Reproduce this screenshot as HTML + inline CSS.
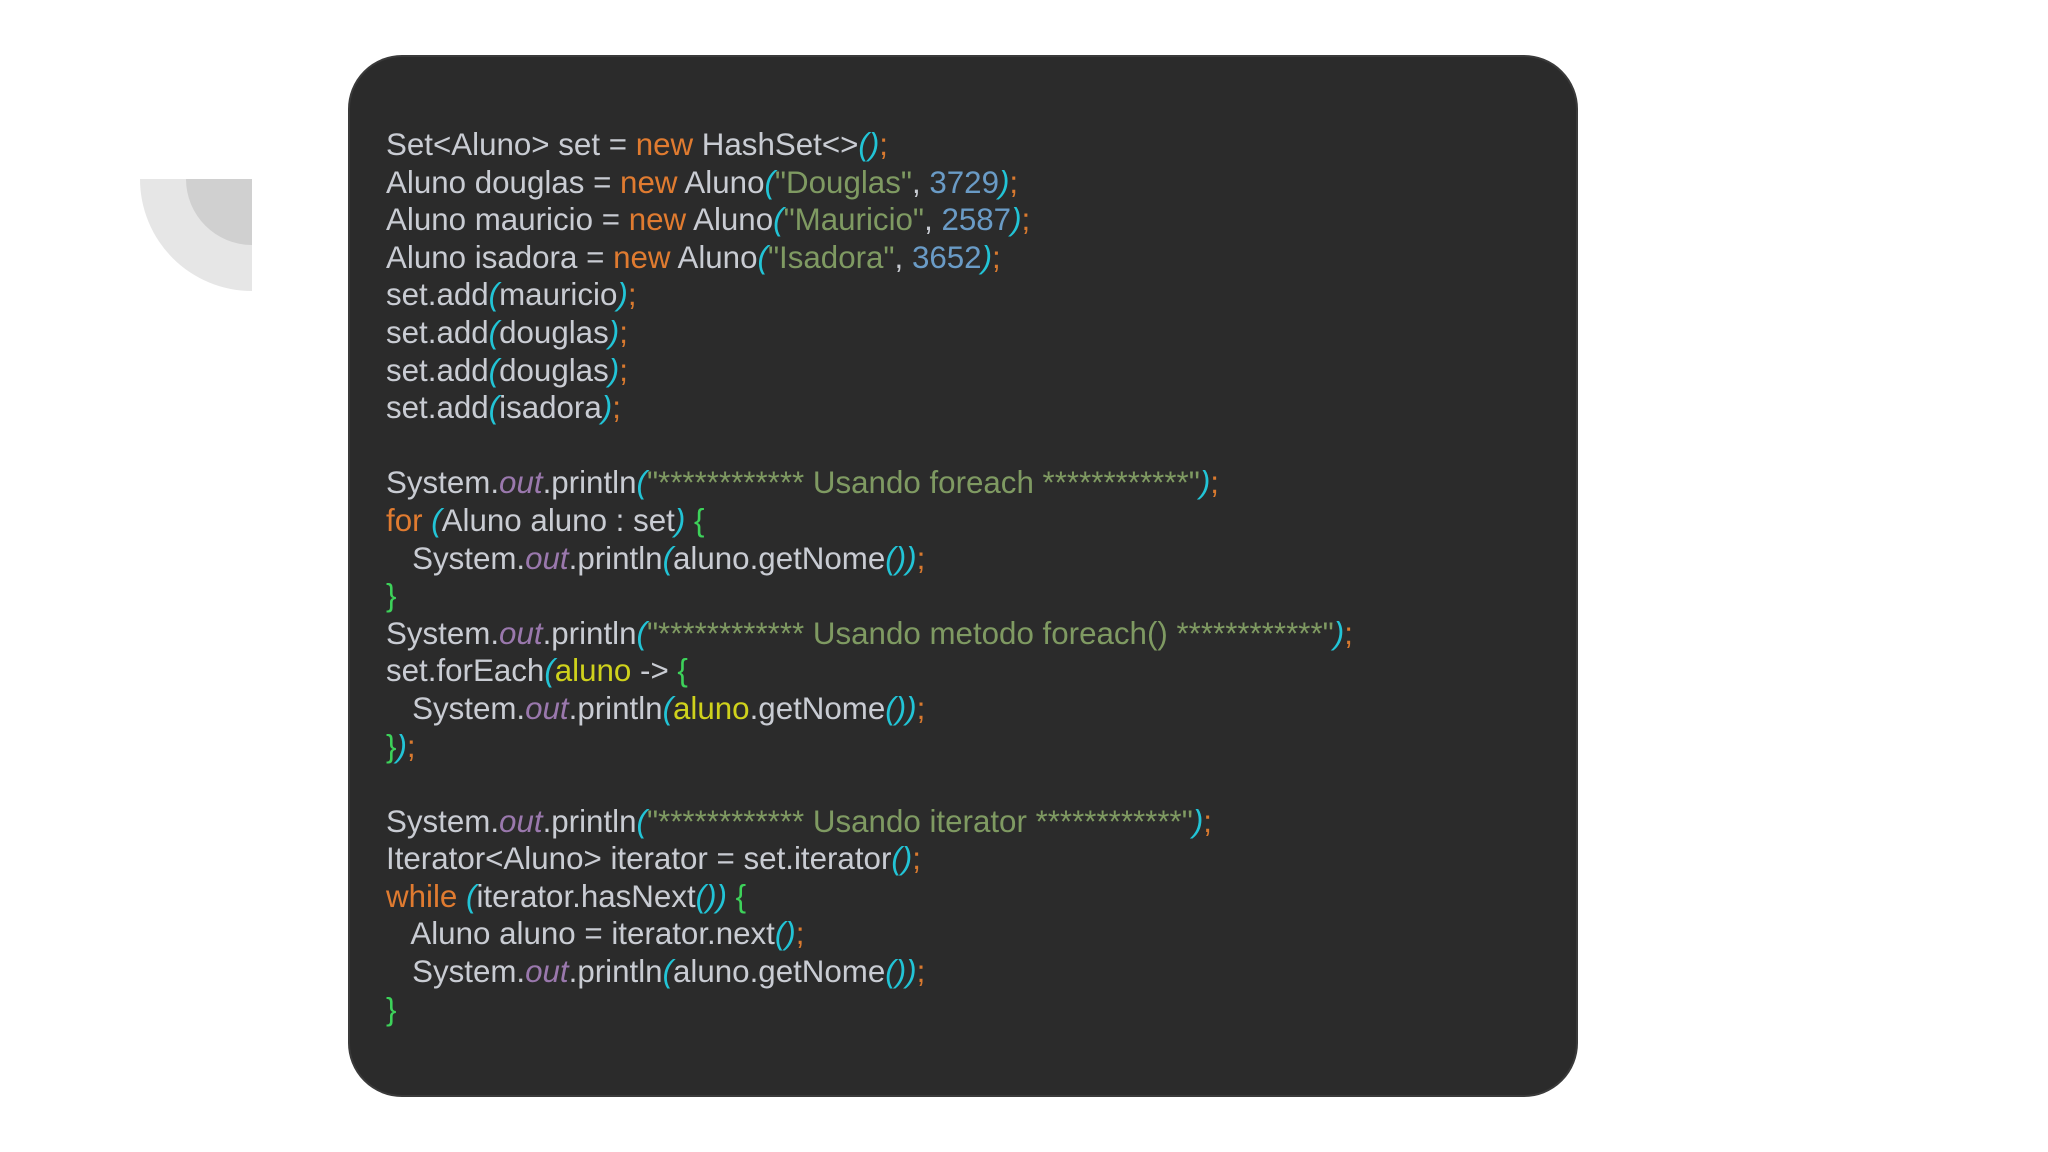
<!DOCTYPE html>
<html><head><meta charset="utf-8"><style>
html,body{margin:0;padding:0;background:#fff;width:2048px;height:1152px;overflow:hidden;position:relative}
.q{position:absolute;left:140px;top:179px;width:112px;height:112px;background:#e6e6e6;border-bottom-left-radius:112px}
.q2{position:absolute;left:186px;top:179px;width:66px;height:66px;background:#d0d0d0;border-bottom-left-radius:66px}
.card{position:absolute;left:348px;top:55px;width:1230px;height:1042px;background:#2b2b2b;border-radius:54px;border:2px solid #3a3a3a;box-sizing:border-box}
pre{position:absolute;left:386px;top:126px;margin:0;font-family:"Liberation Sans",sans-serif;font-size:31.3px;line-height:37.6px;color:#c9ccd3;white-space:pre}
.k{color:#e07b30}.s{color:#7f9a62}.n{color:#6a9bc6}.p{color:#22c4d6;font-style:italic}.c{color:#d97a2f}
.o{color:#9a78ad;font-style:italic}.b{color:#3dd25a}.y{color:#cfd21c}
</style></head><body>
<div class="q"></div><div class="q2"></div>
<div class="card"></div>
<pre>Set&lt;Aluno&gt; set = <span class="k">new</span> HashSet&lt;&gt;<span class="p">()</span><span class="c">;</span>
Aluno douglas = <span class="k">new</span> Aluno<span class="p">(</span><span class="s">"Douglas"</span>, <span class="n">3729</span><span class="p">)</span><span class="c">;</span>
Aluno mauricio = <span class="k">new</span> Aluno<span class="p">(</span><span class="s">"Mauricio"</span>, <span class="n">2587</span><span class="p">)</span><span class="c">;</span>
Aluno isadora = <span class="k">new</span> Aluno<span class="p">(</span><span class="s">"Isadora"</span>, <span class="n">3652</span><span class="p">)</span><span class="c">;</span>
set.add<span class="p">(</span>mauricio<span class="p">)</span><span class="c">;</span>
set.add<span class="p">(</span>douglas<span class="p">)</span><span class="c">;</span>
set.add<span class="p">(</span>douglas<span class="p">)</span><span class="c">;</span>
set.add<span class="p">(</span>isadora<span class="p">)</span><span class="c">;</span>

System.<span class="o">out</span>.println<span class="p">(</span><span class="s">"************ Usando foreach ************"</span><span class="p">)</span><span class="c">;</span>
<span class="k">for</span> <span class="p">(</span>Aluno aluno : set<span class="p">)</span> <span class="b">{</span>
   System.<span class="o">out</span>.println<span class="p">(</span>aluno.getNome<span class="p">())</span><span class="c">;</span>
<span class="b">}</span>
System.<span class="o">out</span>.println<span class="p">(</span><span class="s">"************ Usando metodo foreach() ************"</span><span class="p">)</span><span class="c">;</span>
set.forEach<span class="p">(</span><span class="y">aluno</span> -&gt; <span class="b">{</span>
   System.<span class="o">out</span>.println<span class="p">(</span><span class="y">aluno</span>.getNome<span class="p">())</span><span class="c">;</span>
<span class="b">}</span><span class="p">)</span><span class="c">;</span>

System.<span class="o">out</span>.println<span class="p">(</span><span class="s">"************ Usando iterator ************"</span><span class="p">)</span><span class="c">;</span>
Iterator&lt;Aluno&gt; iterator = set.iterator<span class="p">()</span><span class="c">;</span>
<span class="k">while</span> <span class="p">(</span>iterator.hasNext<span class="p">())</span> <span class="b">{</span>
   Aluno aluno = iterator.next<span class="p">()</span><span class="c">;</span>
   System.<span class="o">out</span>.println<span class="p">(</span>aluno.getNome<span class="p">())</span><span class="c">;</span>
<span class="b">}</span></pre>
</body></html>
